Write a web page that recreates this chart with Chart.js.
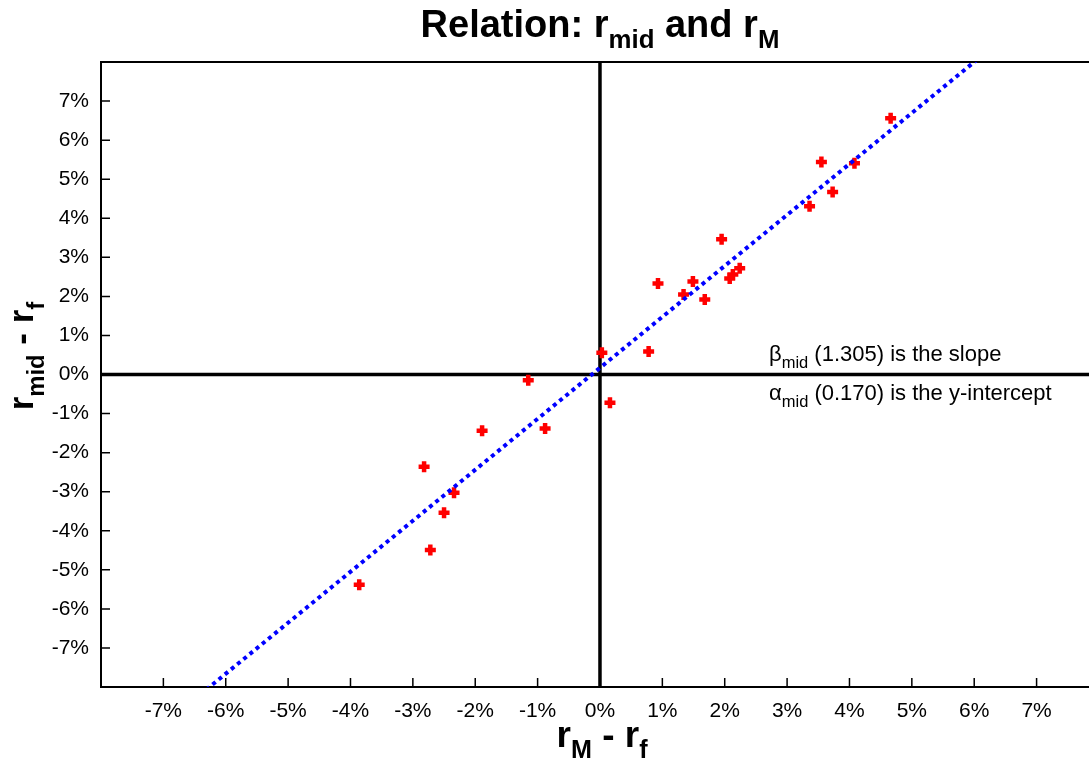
<!DOCTYPE html>
<html>
<head>
<meta charset="utf-8">
<script src="https://cdn.jsdelivr.net/npm/chart.js@4"></script>
<style>
    html, body { margin: 0; padding: 0; background: #fff; overflow: hidden; }
    #wrap { width: 1089px; height: 759px; }
</style>
</head>
<body>
<div id="wrap"><canvas id="relationChart" width="1089" height="759"></canvas></div>
<script>
const marketExcess = [-3.86, -2.82, -2.72, -2.50, -2.34, -1.89, -1.15, -0.88, 0.03, 0.16, 0.78, 0.93, 1.34, 1.49, 1.68, 1.95, 2.08, 2.13, 2.24, 3.36, 3.55, 3.73, 4.08, 4.66];
const midExcess = [-5.38, -2.36, -4.49, -3.54, -3.03, -1.44, -0.15, -1.38, 0.56, -0.72, 0.59, 2.33, 2.05, 2.38, 1.92, 3.46, 2.46, 2.56, 2.72, 4.31, 5.44, 4.67, 5.41, 6.56];
const tickValues = [-7, -6, -5, -4, -3, -2, -1, 0, 1, 2, 3, 4, 5, 6, 7];
const betaMid = 1.305;
const alphaMid = 0.170;

const FONT = "'Liberation Sans', Arial, sans-serif";

// text with subscripts: parts = [[text, isSub], ...]
function drawRich(ctx, parts, x, y, size, bold, align, subRatio) {
    const ratio = subRatio || 0.68;
    const w = (t, s) => {
        ctx.font = (bold ? "bold " : "") + (s ? size * ratio : size) + "px " + FONT;
        return ctx.measureText(t).width;
    };
    let total = 0;
    parts.forEach(([t, s]) => (total += w(t, s)));
    let cx = align === "center" ? x - total / 2 : x;
    ctx.textAlign = "left";
    ctx.textBaseline = "alphabetic";
    parts.forEach(([t, s]) => {
        const tw = w(t, s);
        ctx.fillText(t, cx, s ? y + size * 0.3 : y);
        cx += tw;
    });
}

const decorPlugin = {
    id: "decor",
    beforeDatasetsDraw(chart) {
        const { ctx, chartArea: a, scales } = chart;
        const x0 = scales.x.getPixelForValue(0);
        const y0 = scales.y.getPixelForValue(0);
        const rightEdge = chart.width;
        ctx.save();
        ctx.strokeStyle = "#000";
        // frame (the right side runs off the picture)
        ctx.lineWidth = 2;
        ctx.beginPath();
        ctx.moveTo(rightEdge, a.top);
        ctx.lineTo(a.left, a.top);
        ctx.lineTo(a.left, a.bottom);
        ctx.lineTo(rightEdge, a.bottom);
        ctx.stroke();
        // inward ticks
        ctx.lineWidth = 1.5;
        tickValues.forEach((v) => {
            const px = scales.x.getPixelForValue(v);
            const py = scales.y.getPixelForValue(v);
            ctx.beginPath();
            ctx.moveTo(px, a.bottom);
            ctx.lineTo(px, a.bottom - 9);
            ctx.moveTo(a.left, py);
            ctx.lineTo(a.left + 9, py);
            ctx.stroke();
        });
        // zero lines
        ctx.lineWidth = 3.5;
        ctx.beginPath();
        ctx.moveTo(x0, a.top);
        ctx.lineTo(x0, a.bottom);
        ctx.moveTo(a.left, y0);
        ctx.lineTo(rightEdge, y0);
        ctx.stroke();
        ctx.restore();
    },
    afterDraw(chart) {
        const { ctx } = chart;
        ctx.save();
        ctx.fillStyle = "#000";
        drawRich(ctx, [["Relation: r", false], ["mid", true], [" and r", false], ["M", true]], 600, 37, 38, true, "center");
        drawRich(ctx, [["r", false], ["M", true], [" - r", false], ["f", true]], 602, 747, 37, true, "center");
        ctx.translate(33, 356);
        ctx.rotate(-Math.PI / 2);
        drawRich(ctx, [["r", false], ["mid", true], [" - r", false], ["f", true]], 0, 0, 35, true, "center");
        ctx.restore();

        ctx.save();
        ctx.fillStyle = "#000";
        drawRich(ctx, [["\u03B2", false], ["mid", true], [" (" + betaMid.toFixed(3) + ") is the slope", false]], 769, 361, 22, false, "left", 0.75);
        drawRich(ctx, [["\u03B1", false], ["mid", true], [" (" + alphaMid.toFixed(3) + ") is the y-intercept", false]], 769, 400, 22, false, "left", 0.75);
        ctx.restore();
    },
};

const ctx = document.getElementById("relationChart").getContext("2d");

const relationChart = new Chart(ctx, {
    type: "scatter",
    data: {
        datasets: [
            {
                label: "Fit",
                type: "line",
                data: [
                    { x: -8, y: alphaMid + betaMid * -8 },
                    { x: 8, y: alphaMid + betaMid * 8 },
                ],
                borderColor: "#0000ff",
                borderWidth: 4,
                borderDash: [4, 4],
                pointRadius: 0,
                fill: false,
            },
            {
                label: "Points",
                data: marketExcess.map((x, i) => ({ x: x, y: midExcess[i] })),
                pointStyle: "cross",
                pointRadius: 5.5,
                borderWidth: 4.5,
                borderColor: "#ff0000",
                backgroundColor: "#ff0000",
            },
        ],
    },
    options: {
        responsive: false,
        animation: false,
        layout: { padding: { top: 62, left: 0, right: 0, bottom: 0 } },
        plugins: { legend: { display: false }, tooltip: { enabled: false } },
        scales: {
            x: {
                type: "linear",
                min: -8,
                max: 7.68,
                border: { display: false },
                grid: { display: false, drawTicks: false },
                afterBuildTicks: (scale) => {
                    scale.ticks = tickValues.map((v) => ({ value: v }));
                },
                afterFit: (scale) => {
                    scale.height = 72;
                    scale.paddingLeft = 0;
                    scale.paddingRight = 0;
                },
                ticks: {
                    color: "#000",
                    padding: 12,
                    maxRotation: 0,
                    font: { family: FONT, size: 21 },
                    callback: (v) => v + "%",
                },
            },
            y: {
                type: "linear",
                min: -8,
                max: 8,
                border: { display: false },
                grid: { display: false, drawTicks: false },
                afterBuildTicks: (scale) => {
                    scale.ticks = tickValues.map((v) => ({ value: v }));
                },
                afterFit: (scale) => {
                    scale.width = 101;
                    scale.paddingTop = 0;
                    scale.paddingBottom = 0;
                },
                ticks: {
                    color: "#000",
                    padding: 12,
                    font: { family: FONT, size: 21 },
                    callback: (v) => v + "%",
                },
            },
        },
    },
    plugins: [decorPlugin],
});
</script>
</body>
</html>
